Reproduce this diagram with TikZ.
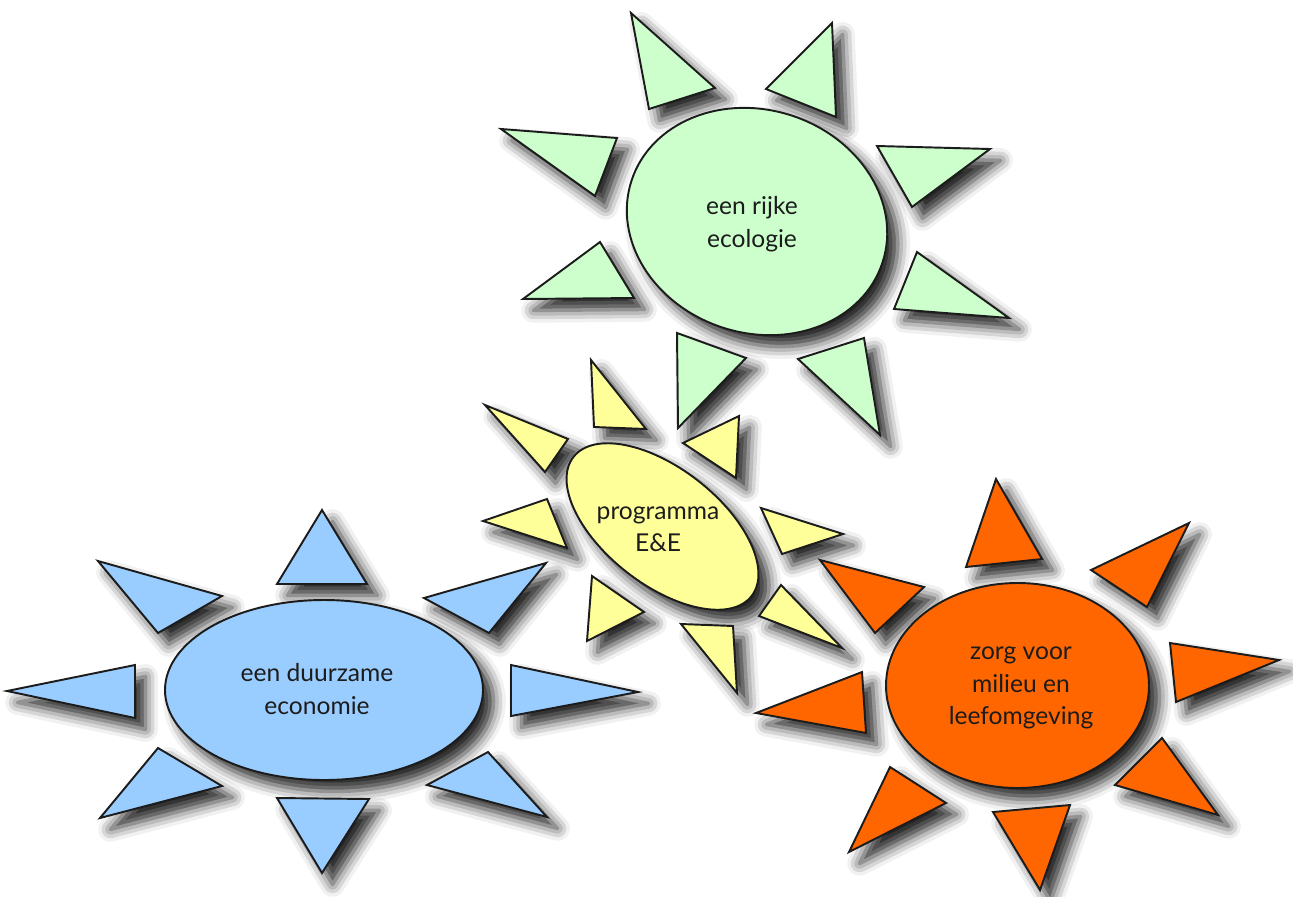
\documentclass[tikz,border=0pt]{standalone}
\usepackage{fontspec}
\setmainfont{Lato}
\usetikzlibrary{shadows.blur}

\definecolor{ecogreen}{HTML}{CCFFCC}
\definecolor{progyellow}{HTML}{FFFF99}
\definecolor{econblue}{HTML}{99CCFF}
\definecolor{envorange}{HTML}{FF6600}
\definecolor{inkgray}{HTML}{1C1C1C}

\tikzset{
  sunline/.style={draw=inkgray, line width=1.1pt, line join=miter},
  sunshadow/.style={blur shadow={shadow xshift=6pt, shadow yshift=-6.5pt,
      shadow blur radius=7pt, shadow opacity=85}},
  sunlabel/.style={align=center, text=inkgray, inner sep=0pt,
      font=\fontsize{14}{18.5}\selectfont},
}

% rays: colour / three corners (pixels, y downwards)
\newcommand{\allrays}{%
  ecogreen/631/13/715/88/649/109, ecogreen/832/23/766/89/836/117,
  ecogreen/501/129/617/138/595/196, ecogreen/877/146/990/149/912/207,
  ecogreen/600/242/634/298/523/299, ecogreen/917/252/1009/318/894/309,
  ecogreen/677/333/746/358/678/428, ecogreen/798/359/864/338/880/435,
  progyellow/591/360/646/429/594/427, progyellow/485/405/568/439/545/472,
  progyellow/739/416/736/478/683/443, progyellow/547/499/567/548/483/521,
  progyellow/761/508/843/534/782/554, progyellow/592/576/644/612/587/641,
  progyellow/781/585/842/648/759/616, progyellow/681/624/733/626/737/693,
  econblue/322/510/367/584/277/584, econblue/98/561/222/596/158/633,
  econblue/546/563/489/633/424/598, econblue/7/691/135/665/135/718,
  econblue/511/665/638/692/511/716, econblue/158/748/222/786/100/818,
  econblue/488/752/547/817/427/785, econblue/277/798/369/799/322/873,
  envorange/996/479/1042/559/966/567, envorange/1189/523/1147/607/1091/570,
  envorange/820/560/924/587/875/633, envorange/1170/643/1279/660/1176/702,
  envorange/862/672/866/733/756/713, envorange/1162/738/1218/815/1115/785,
  envorange/890/767/946/803/849/852, envorange/993/812/1070/805/1040/890}

\begin{document}
\begin{tikzpicture}[x=0.02cm, y=-0.02cm]
  \useasboundingbox (0,0) rectangle (1293,896);

  \coordinate (ecoc) at (757,221.5);
  \coordinate (progc) at (662.5,526.5);
  \coordinate (econc) at (324,690);
  \coordinate (envc) at (1017.5,685.5);

  % shadows of the rays
  \foreach \col/\xa/\ya/\xb/\yb/\xc/\yc in \allrays
    \fill[white, sunshadow] (\xa,\ya) -- (\xb,\yb) -- (\xc,\yc) -- cycle;

  % the bodies
  \draw[sunline, sunshadow, fill=ecogreen, rotate around={-18:(ecoc)}]
    (ecoc) ellipse [x radius=132, y radius=111.5];
  \draw[sunline, sunshadow, fill=progyellow, rotate around={-38:(progc)}]
    (progc) ellipse [x radius=113, y radius=58];
  \draw[sunline, sunshadow, fill=econblue] (econc) ellipse [x radius=159, y radius=90];
  \draw[sunline, sunshadow, fill=envorange] (envc) ellipse [x radius=131.5, y radius=102.5];

  % the rays
  \foreach \col/\xa/\ya/\xb/\yb/\xc/\yc in \allrays
    \draw[sunline, fill=\col] (\xa,\ya) -- (\xb,\yb) -- (\xc,\yc) -- cycle;

  \node[sunlabel] (ecologie) at (752,224) {een rijke\\ecologie};
  \node[sunlabel] (programma) at (658,529) {programma\\E\&E};
  \node[sunlabel] (economie) at (317,689) {een duurzame\\economie};
  \node[sunlabel] (milieu) at (1021,688) {zorg voor\\milieu en\\leefomgeving};
\end{tikzpicture}
\end{document}
